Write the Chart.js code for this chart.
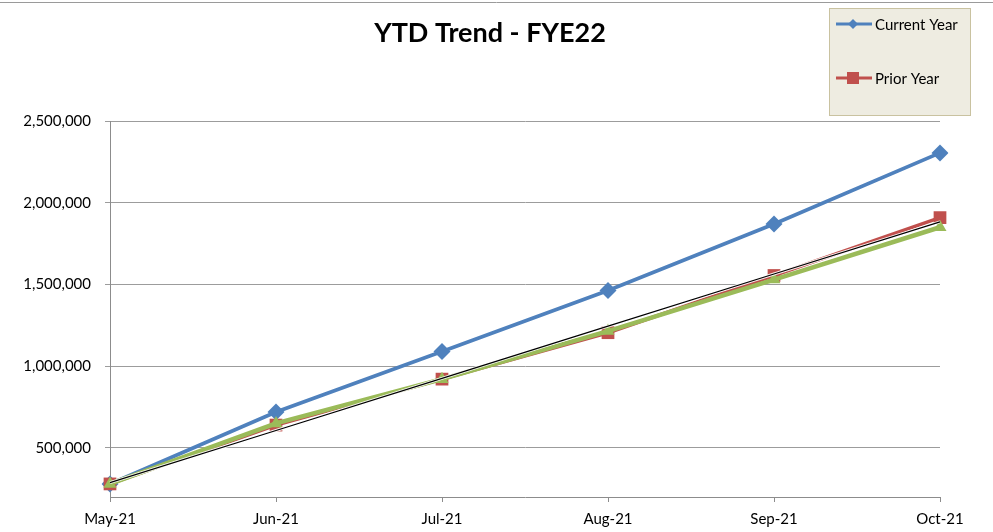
<!DOCTYPE html>
<html>
<head>
<meta charset="utf-8">
<script src="https://cdn.jsdelivr.net/npm/chart.js@4.4.1/dist/chart.umd.min.js"></script>
<style>
  html, body { margin: 0; padding: 0; background: #fff; }
  #wrap { position: relative; width: 993px; height: 532px; }
</style>
</head>
<body>
<div id="wrap"><canvas id="myChart" width="993" height="532"></canvas></div>
<script>
// values
const months = ["May-21", "Jun-21", "Jul-21", "Aug-21", "Sep-21", "Oct-21"];
const currentYear = [280000, 720000, 1090000, 1463000, 1870000, 2305000];
const priorYear = [280000, 640000, 921000, 1205000, 1555000, 1909000];
const thirdSeries = [280000, 650000, 921000, 1215000, 1530000, 1850000];
const priorTrend = [288000, 607000, 926000, 1245000, 1564000, 1883000];
const yTicks = [500000, 1000000, 1500000, 2000000, 2500000];

const blue = "#4F81BD";
const red = "#C0504D";
const green = "#9BBB59";
const font = "Lato, 'Open Sans', sans-serif";

// title and legend box drawn like the excel chart
const decorations = {
  id: "decorations",
  afterDraw(chart) {
    const ctx = chart.ctx;
    ctx.save();
    // top border line
    ctx.strokeStyle = "#9a9a9a";
    ctx.lineWidth = 1;
    ctx.beginPath();
    ctx.moveTo(0, 2.5);
    ctx.lineTo(993, 2.5);
    ctx.stroke();

    // title
    ctx.fillStyle = "#000";
    ctx.font = "bold 27px " + font;
    ctx.textAlign = "center";
    ctx.textBaseline = "middle";
    ctx.fillText("YTD Trend - FYE22", 490, 33);

    // legend box
    ctx.fillStyle = "#EEECE1";
    ctx.fillRect(829.5, 8.5, 141, 107);
    ctx.strokeStyle = "#C9C2A0";
    ctx.strokeRect(829.5, 8.5, 141, 107);

    const items = [
      { text: "Current Year", color: blue, style: "diamond", y: 24 },
      { text: "Prior Year", color: red, style: "square", y: 78 }
    ];
    items.forEach(it => {
      ctx.strokeStyle = it.color;
      ctx.lineWidth = 3;
      ctx.beginPath();
      ctx.moveTo(836, it.y);
      ctx.lineTo(872, it.y);
      ctx.stroke();
      ctx.fillStyle = it.color;
      if (it.style === "diamond") {
        ctx.beginPath();
        ctx.moveTo(853, it.y - 5);
        ctx.lineTo(858, it.y);
        ctx.lineTo(853, it.y + 5);
        ctx.lineTo(848, it.y);
        ctx.closePath();
        ctx.fill();
      } else {
        ctx.fillRect(847, it.y - 6, 12, 12);
      }
      ctx.fillStyle = "#000";
      ctx.font = "15px " + font;
      ctx.textAlign = "left";
      ctx.fillText(it.text, 875, it.y + 1);
    });
    ctx.restore();
  }
};

const config = {
  type: "line",
  data: {
    labels: months,
    datasets: [
      {
        label: "Trend",
        data: priorTrend,
        borderColor: "#000",
        borderWidth: 1.2,
        pointRadius: 0,
        order: 0
      },
      {
        label: "Trend outline",
        data: priorTrend,
        borderColor: "rgba(255,255,255,0.9)",
        borderWidth: 3,
        pointRadius: 0,
        order: 1
      },
      {
        label: "Series 3",
        data: thirdSeries,
        borderColor: green,
        backgroundColor: green,
        borderWidth: 4.5,
        pointStyle: "triangle",
        pointRadius: 7.5,
        pointBorderWidth: 0,
        order: 2
      },
      {
        label: "Prior Year",
        data: priorYear,
        borderColor: red,
        backgroundColor: red,
        borderWidth: 3.5,
        pointStyle: "rect",
        pointRadius: 9,
        pointBorderWidth: 0,
        order: 3
      },
      {
        label: "Current Year",
        data: currentYear,
        borderColor: blue,
        backgroundColor: blue,
        borderWidth: 3.8,
        pointStyle: "rectRot",
        pointRadius: 8.5,
        pointBorderWidth: 0,
        order: 4
      }
    ]
  },
  options: {
    responsive: false,
    animation: false,
    layout: {
      padding: { top: 121, right: 53, left: 0, bottom: 0 }
    },
    plugins: {
      legend: { display: false },
      title: { display: false },
      tooltip: { enabled: false }
    },
    scales: {
      x: {
        offset: false,
        afterFit(scale) { scale.height = 35; },
        border: { color: "#8c8c8c" },
        grid: {
          drawOnChartArea: false,
          drawTicks: true,
          tickLength: 5,
          color: "#8c8c8c"
        },
        ticks: {
          color: "#000",
          padding: 8,
          maxRotation: 0,
          font: { family: font, size: 15 }
        }
      },
      y: {
        min: 200000,
        max: 2500000,
        afterFit(scale) { scale.width = 110; },
        afterBuildTicks(scale) {
          scale.ticks = yTicks.map(v => ({ value: v }));
        },
        border: { color: "#8c8c8c" },
        grid: {
          color: "#9c9c9c",
          tickLength: 5
        },
        ticks: {
          color: "#000",
          padding: 14,
          font: { family: font, size: 15 },
          callback: v => v.toLocaleString("en-US")
        }
      }
    }
  },
  plugins: [decorations]
};

const ctx = document.getElementById("myChart").getContext("2d");
const myChart = new Chart(ctx, config);
</script>
</body>
</html>
